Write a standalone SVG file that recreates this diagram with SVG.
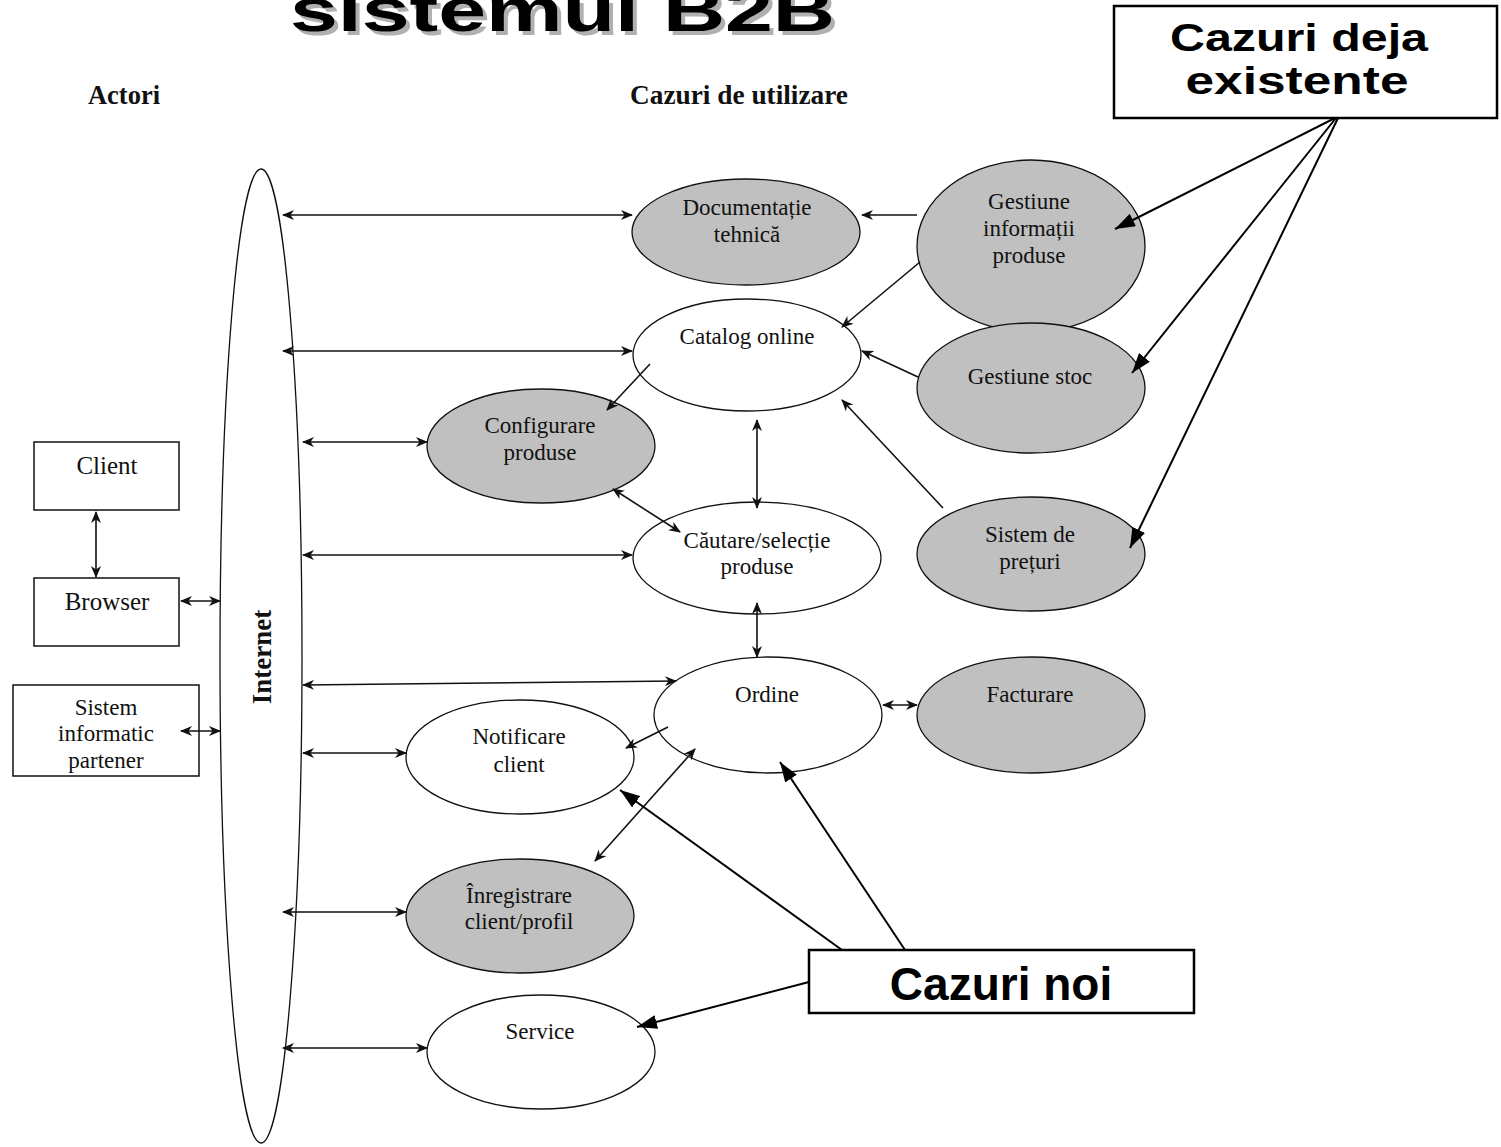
<svg xmlns="http://www.w3.org/2000/svg" width="1501" height="1147" viewBox="0 0 1501 1147">
<style>
.uc{stroke:#111;stroke-width:1.3}
.g{fill:#c0c0c0}
.w{fill:#fff}
.t{font-family:"Liberation Serif","Times New Roman",serif;font-size:23px;fill:#111;text-anchor:middle}
.tb{font-family:"Liberation Serif","Times New Roman",serif;font-size:27px;font-weight:bold;fill:#111;text-anchor:middle}
.ab{fill:#fff;stroke:#111;stroke-width:1.5}
.cb{fill:#fff;stroke:#000;stroke-width:2.5}
.ct{font-family:"Liberation Sans",Arial,sans-serif;font-weight:bold;fill:#000;text-anchor:middle}
.c{fill:none;stroke:#111;stroke-width:1.6}
.cs{marker-end:url(#ah)}
.cd{marker-start:url(#ah);marker-end:url(#ah)}
.co{fill:none;stroke:#000;stroke-width:2;marker-end:url(#big)}
</style>
<defs>
<marker id="ah" viewBox="0 0 12 10" refX="11" refY="5" markerWidth="12" markerHeight="10" markerUnits="userSpaceOnUse" orient="auto-start-reverse">
<path d="M0,0 L12,5 L0,10 L3.5,5 Z" fill="#111"/>
</marker>
<marker id="big" viewBox="0 0 20 14" refX="20" refY="7" markerWidth="20" markerHeight="14" markerUnits="userSpaceOnUse" orient="auto">
<path d="M0,0 L20,7 L0,14 Z" fill="#000"/>
</marker>
<clipPath id="spclip"><rect x="13" y="685" width="186" height="91"/></clipPath>
</defs>

<g id="title">
<text x="294" y="35" class="ct" style="font-size:62px;text-anchor:start;fill:#b0b0b0" textLength="545" lengthAdjust="spacingAndGlyphs">sistemul B2B</text>
<text x="290" y="31" class="ct" style="font-size:62px;text-anchor:start" textLength="545" lengthAdjust="spacingAndGlyphs">sistemul B2B</text>
</g>

<g id="headers">
<text x="124" y="104" class="tb" textLength="72" lengthAdjust="spacingAndGlyphs">Actori</text>
<text x="739" y="104" class="tb" textLength="218" lengthAdjust="spacingAndGlyphs">Cazuri de utilizare</text>
</g>

<g id="internet">
<ellipse cx="261" cy="656" rx="41" ry="487" fill="none" stroke="#111" stroke-width="1.3"/>
<text transform="translate(271,657) rotate(-90)" class="tb">Internet</text>
</g>

<g id="client"><rect class="ab" x="34" y="442" width="145" height="68"/><text x="107" y="474" class="t" style="font-size:25px">Client</text></g>
<g id="browser"><rect class="ab" x="34" y="578" width="145" height="68"/><text x="107" y="610" class="t" style="font-size:25px">Browser</text></g>
<g id="sistem-partener"><rect class="ab" x="13" y="685" width="186" height="91"/>
<g clip-path="url(#spclip)"><text x="106" y="715" class="t">Sistem</text><text x="106" y="741" class="t">informatic</text><text x="106" y="768" class="t">partener</text></g></g>

<g id="documentatie"><ellipse class="uc g" cx="746" cy="232" rx="114" ry="53"/><text x="747" y="215" class="t">Documentație</text><text x="747" y="242" class="t">tehnică</text></g>
<g id="gestiune-info"><ellipse class="uc g" cx="1031" cy="246" rx="114" ry="86"/><text x="1029" y="209" class="t">Gestiune</text><text x="1029" y="236" class="t">informații</text><text x="1029" y="263" class="t">produse</text></g>
<g id="catalog"><ellipse class="uc w" cx="747" cy="355" rx="114" ry="56"/><text x="747" y="344" class="t">Catalog online</text></g>
<g id="gestiune-stoc"><ellipse class="uc g" cx="1031" cy="388" rx="114" ry="65"/><text x="1030" y="384" class="t">Gestiune stoc</text></g>
<g id="configurare"><ellipse class="uc g" cx="541" cy="446" rx="114" ry="57"/><text x="540" y="433" class="t">Configurare</text><text x="540" y="460" class="t">produse</text></g>
<g id="cautare"><ellipse class="uc w" cx="757" cy="558" rx="124" ry="56"/><text x="757" y="548" class="t">Căutare/selecție</text><text x="757" y="574" class="t">produse</text></g>
<g id="preturi"><ellipse class="uc g" cx="1031" cy="554" rx="114" ry="57"/><text x="1030" y="542" class="t">Sistem de</text><text x="1030" y="569" class="t">prețuri</text></g>
<g id="ordine"><ellipse class="uc w" cx="768" cy="715" rx="114" ry="58"/><text x="767" y="702" class="t">Ordine</text></g>
<g id="facturare"><ellipse class="uc g" cx="1031" cy="715" rx="114" ry="58"/><text x="1030" y="702" class="t">Facturare</text></g>
<g id="notificare"><ellipse class="uc w" cx="520" cy="757" rx="114" ry="57"/><text x="519" y="744" class="t">Notificare</text><text x="519" y="772" class="t">client</text></g>
<g id="inregistrare"><ellipse class="uc g" cx="520" cy="916" rx="114" ry="57"/><text x="519" y="903" class="t">Înregistrare</text><text x="519" y="929" class="t">client/profil</text></g>
<g id="service"><ellipse class="uc w" cx="541" cy="1052" rx="114" ry="57"/><text x="540" y="1039" class="t">Service</text></g>

<g id="cazuri-existente"><rect class="cb" x="1114" y="6" width="383" height="112"/>
<text x="1299" y="51" class="ct" style="font-size:39px" textLength="258" lengthAdjust="spacingAndGlyphs">Cazuri deja</text>
<text x="1297" y="94" class="ct" style="font-size:39px" textLength="223" lengthAdjust="spacingAndGlyphs">existente</text></g>
<g id="cazuri-noi"><rect class="cb" x="809" y="950" width="385" height="63"/>
<text x="1001" y="1000" class="ct" style="font-size:46px">Cazuri noi</text></g>

<g id="connectors">
<line class="c cd" x1="96" y1="512" x2="96" y2="577"/>
<line class="c cd" x1="181" y1="601" x2="220" y2="601"/>
<line class="c cd" x1="181" y1="731" x2="220" y2="731"/>
<line class="c cd" x1="283" y1="215" x2="632" y2="215"/>
<line class="c cd" x1="283" y1="351" x2="632" y2="351"/>
<line class="c cd" x1="303" y1="442" x2="427" y2="442"/>
<line class="c cd" x1="303" y1="555" x2="632" y2="555"/>
<line class="c cd" x1="303" y1="685" x2="676" y2="681"/>
<line class="c cd" x1="303" y1="753" x2="406" y2="753"/>
<line class="c cd" x1="283" y1="912" x2="406" y2="912"/>
<line class="c cd" x1="283" y1="1048" x2="427" y2="1048"/>
<line class="c cs" x1="917" y1="215" x2="862" y2="215"/>
<line class="c cs" x1="920" y1="262" x2="842" y2="327"/>
<line class="c cs" x1="918" y1="377" x2="862" y2="351"/>
<line class="c cs" x1="943" y1="508" x2="842" y2="400"/>
<line class="c cs" x1="650" y1="364" x2="607" y2="410"/>
<line class="c cd" x1="757" y1="420" x2="757" y2="508"/>
<line class="c cd" x1="613" y1="489" x2="680" y2="532"/>
<line class="c cd" x1="757" y1="603" x2="757" y2="657"/>
<line class="c cd" x1="883" y1="705" x2="917" y2="705"/>
<line class="c cs" x1="668" y1="727" x2="626" y2="748"/>
<line class="c cd" x1="595" y1="861" x2="695" y2="749"/>
<line class="co" x1="1335" y1="118" x2="1115" y2="229"/>
<line class="co" x1="1336" y1="118" x2="1132" y2="373"/>
<line class="co" x1="1338" y1="118" x2="1130" y2="548"/>
<line class="co" x1="842" y1="950" x2="620" y2="790"/>
<line class="co" x1="905" y1="950" x2="780" y2="762"/>
<line class="co" x1="809" y1="982" x2="637" y2="1027"/>
</g>
</svg>
